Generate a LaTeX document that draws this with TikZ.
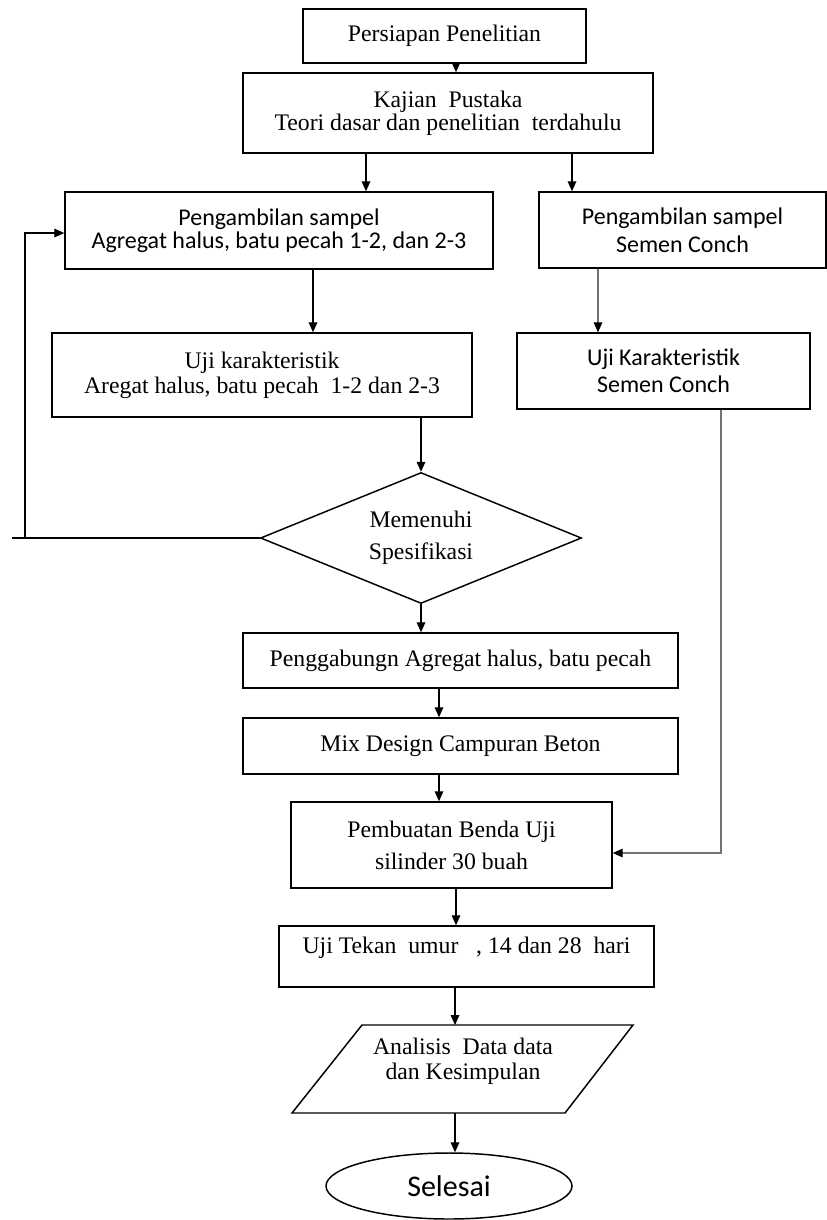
\documentclass[tikz,border=0pt]{standalone}
\usepackage{fontspec}
\newfontfamily\tnrfont{Liberation Serif}
\newfontfamily\calfont{Carlito}
\usetikzlibrary{shapes.geometric,arrows.meta}
\begin{document}
\begin{tikzpicture}[x=0.75pt,y=-0.75pt,
  box/.style={draw, line width=1.1pt, rectangle, inner sep=0pt, align=center},
  tnr/.style={font=\tnrfont\fontsize{17.8}{#1}\selectfont},
  cal/.style={font=\calfont\fontsize{18}{#1}\selectfont},
  conn/.style={line width=0.9pt},
  arr/.style={conn, -{Triangle[length=7.5pt,width=6.5pt]}},
  garr/.style={line width=0.9pt, draw=black!55, -{Triangle[length=7.5pt,width=6.5pt,color=black]}}
]
\useasboundingbox (0,0) rectangle (827,1220);

\node[box, tnr=20, minimum width=212.25pt, minimum height=40.5pt] (b1) at (444.5,36) {Persiapan Penelitian};
\node[box, tnr=15, minimum width=307.5pt, minimum height=60pt] (b2) at (448,113) {Kajian\ \ Pustaka\\Teori dasar dan penelitian\ \ terdahulu};
\node[box, cal=17.5, minimum width=321pt, minimum height=57.75pt] (b3) at (279,230.5) {Pengambilan sampel\\Agregat halus, batu pecah 1-2, dan 2-3};
\node[box, cal=20.8, minimum width=215.25pt, minimum height=57pt] (r1) at (682.5,230) {Pengambilan sampel\\Semen Conch};
\node[box, tnr=18.75, minimum width=315pt, minimum height=63pt] (b4) at (262,375) {Uji karakteristik\\Aregat halus, batu pecah\ \ 1-2 dan 2-3};
\node[box, cal=20.5, minimum width=219.75pt, minimum height=57pt] (r2) at (663.5,371) {Uji Karakteristik\\Semen Conch};
\node[draw, line width=1.1pt, diamond, shape aspect=2.45, inner sep=0pt, align=center, tnr=24, minimum width=240.75pt, minimum height=98.25pt] (dia) at (421,538) {Memenuhi\\Spesifikasi};
\node[box, tnr=20, minimum width=326.25pt, minimum height=41.25pt] (b5) at (460.5,660.5) {Penggabungn Agregat halus, batu pecah};
\node[box, tnr=20, minimum width=326.25pt, minimum height=42pt] (b6) at (460.5,746) {Mix Design Campuran Beton};
\node[box, tnr=24, minimum width=240.75pt, minimum height=64.5pt] (b7) at (451.5,845) {Pembuatan Benda Uji\\silinder 30 buah};
\node[box, tnr=20, minimum width=281.25pt, minimum height=45.75pt, text height=20.25pt, text depth=25.5pt] (b8) at (466.5,956.5) {Uji Tekan\ \ umur\ \ \ , 14 dan 28\ \ hari};

\coordinate (pTL) at (362,1025);
\coordinate (pTR) at (633,1025);
\coordinate (pBR) at (565,1113);
\coordinate (pBL) at (292,1113);
\draw[line width=1.1pt] (pTL) -- (pTR) -- (pBR) -- (pBL) -- cycle;
\node[tnr=18.75, align=center, inner sep=0pt] (para) at (463,1061.5) {Analisis\ \ Data data\\dan Kesimpulan};
\coordinate (pTop) at (455,1025);
\coordinate (pBot) at (455,1113);

\node[draw, line width=1.1pt, ellipse, inner sep=0pt, minimum width=184.5pt, minimum height=49.5pt, font=\calfont\fontsize{22.5}{27}\selectfont] (fin) at (449,1186) {Selesai};

\coordinate (loopL) at (12,538);
\coordinate (loopC) at (25,538);

\draw[arr] (b1.south -| 456,0) -- (b2.north -| 456,0);
\draw[arr] (b2.south -| 366,0) -- (b3.north -| 366,0);
\draw[arr] (b2.south -| 572,0) -- (r1.north -| 572,0);
\draw[arr] (b3.south -| 313,0) -- (b4.north -| 313,0);
\draw[garr] (r1.south -| 598,0) -- (r2.north -| 598,0);
\draw[arr] (b4.south -| dia.north) -- (dia.north);
\draw[conn] (dia.west) -- (loopL);
\draw[arr] (loopC) |- ([yshift=-1.9pt]b3.west);
\draw[arr] (dia.south) -- (b5.north -| dia.south);
\draw[arr] (b5.south -| 439,0) -- (b6.north -| 439,0);
\draw[arr] (b6.south -| 439,0) -- (b7.north -| 439,0);
\draw[garr] (r2.south -| 721,0) |- ([yshift=-6pt]b7.east);
\draw[arr] (b7.south -| 456,0) -- (b8.north -| 456,0);
\draw[arr] (b8.south -| pTop) -- (pTop);
\draw[arr] (pBot) -- (fin.north -| pBot);
\end{tikzpicture}
\end{document}
